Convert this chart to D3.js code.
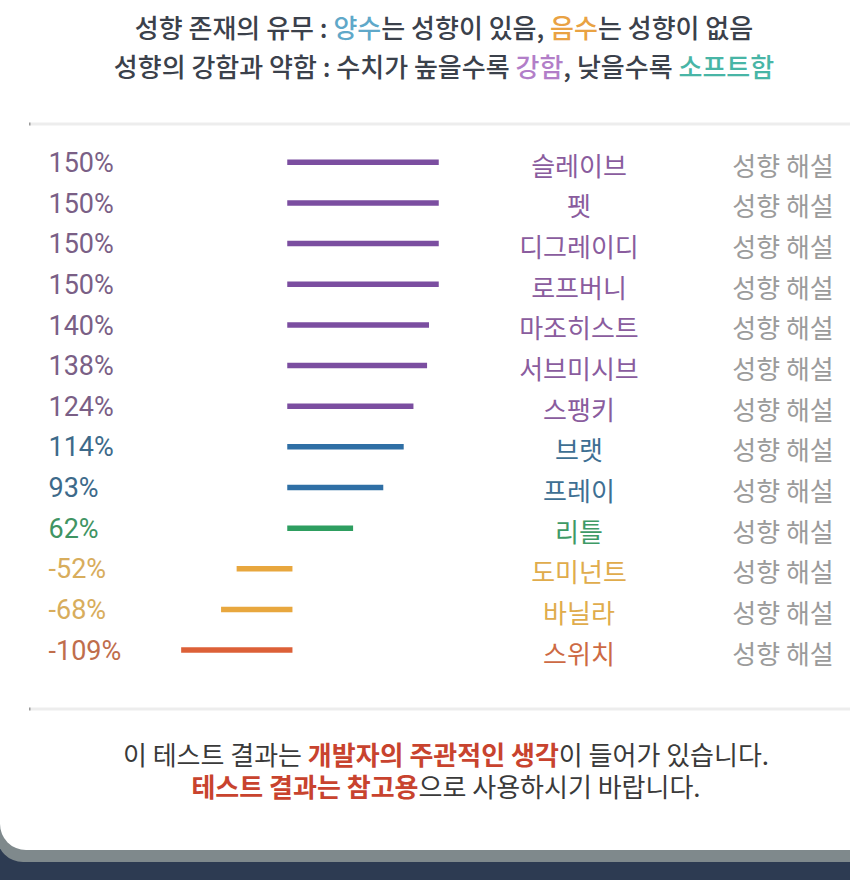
<!DOCTYPE html>
<html><head><meta charset="utf-8">
<script src="https://cdn.jsdelivr.net/npm/d3@7"></script>
<style>
html,body{margin:0;padding:0;background:#fff;}
svg{display:block;}
</style>
</head><body>
<svg id="chart" width="850" height="880"></svg>
<script>
const categories = ["슬레이브","펫","디그레이디","로프버니","마조히스트","서브미시브","스팽키","브랫","프레이","리틀","도미넌트","바닐라","스위치"];
const values = [150,150,150,150,140,138,124,114,93,62,-52,-68,-109];
const valueLabels = ["150%","150%","150%","150%","140%","138%","124%","114%","93%","62%","-52%","-68%","-109%"];
const groups = ["purple","purple","purple","purple","purple","purple","purple","blue","blue","green","orange","orange","red"];
const detailLabel = "성향 해설";
const titleLine1 = [["성향 존재의 유무 : ","dark"],["양수","sky"],["는 성향이 있음, ","dark"],["음수","amber"],["는 성향이 없음","dark"]];
const titleLine2 = [["성향의 강함과 약함 : 수치가 높을수록 ","dark"],["강함","lilac"],[", 낮을수록 ","dark"],["소프트함","teal"]];
const footLine1 = [["이 테스트 결과는 ","text"],["개발자의 주관적인 생각","alert"],["이 들어가 있습니다.","text"]];
const footLine2 = [["테스트 결과는 참고용","alert"],["으로 사용하시기 바랍니다.","text"]];

const barColor = {purple:"#7b4ea0",blue:"#2f6fa5",green:"#2e9e60",orange:"#e8a73e",red:"#dc6038"};
const valueColor = {purple:"#7a5f86",blue:"#3d6a8a",green:"#3f9463",orange:"#d8ad5c",red:"#c06e4c"};
const nameColor = {purple:"#8a5c9e",blue:"#3e6f93",green:"#3e9a66",orange:"#e0ac4c",red:"#cd6a44"};
const spanColor = {dark:"#3b414b",sky:"#5fa8c9",amber:"#e9a243",lilac:"#b27ec8",teal:"#48b5a6",text:"#3a3a3a",alert:"#c8432e"};

const svg = d3.select("#chart");
const KR = "'Noto Sans CJK KR','Noto Sans',sans-serif";

// background card
svg.append("rect").attr("x",0).attr("y",835).attr("width",850).attr("height",45).attr("fill","#2d3b52");
svg.append("rect").attr("x",-3).attr("y",-40).attr("width",900).attr("height",902).attr("rx",26).attr("fill","#7f898c");
svg.append("rect").attr("x",0).attr("y",-40).attr("width",900).attr("height",890).attr("rx",26).attr("fill","#ffffff");

function rich(lines, y, x, size, weight, boldKey){
  const t = svg.append("text").attr("x",x).attr("y",y).attr("text-anchor","middle")
    .attr("font-family",KR).attr("font-size",size).attr("font-weight",weight);
  t.selectAll("tspan").data(lines).join("tspan").text(d=>d[0])
    .attr("fill",d=>spanColor[d[1]])
    .attr("font-weight",d=> d[1]===boldKey ? 700 : weight);
}
rich(titleLine1, 38, 444, 26, 500);
rich(titleLine2, 77, 444, 26, 500);

// dividers
[124, 709].forEach(y=>{
  svg.append("rect").attr("x",30).attr("y",y-1.5).attr("width",830).attr("height",3).attr("fill","#ededed");
  svg.append("rect").attr("x",29).attr("y",y-1.5).attr("width",1.5).attr("height",3).attr("fill","#9a9a9a");
});

const n = categories.length;
const y = d3.scalePoint().domain(d3.range(n)).range([162.3, 650.1]);
const x = d3.scaleLinear().domain([0,150]).range([290,436]);

const rows = svg.append("g").selectAll("g").data(d3.range(n)).join("g");

rows.append("line")
  .attr("x1", i => values[i] >= 0 ? x(0) : x(0) - 0.3)
  .attr("x2", i => x(values[i]))
  .attr("y1", i => y(i)).attr("y2", i => y(i))
  .attr("stroke", i => barColor[groups[i]])
  .attr("stroke-width", 5.5)
  .attr("stroke-linecap","square");

rows.append("text")
  .attr("x", 48.5).attr("y", i => y(i) + 9.6)
  .attr("font-family","Roboto,sans-serif").attr("font-size",27)
  .attr("fill", i => valueColor[groups[i]])
  .text(i => valueLabels[i]);

rows.append("text")
  .attr("x", 579).attr("y", i => y(i) + 13.5)
  .attr("text-anchor","middle")
  .attr("font-family",KR).attr("font-size",26)
  .attr("fill", i => nameColor[groups[i]])
  .text(i => categories[i]);

rows.append("text")
  .attr("x", 783).attr("y", i => y(i) + 13.5)
  .attr("text-anchor","middle")
  .attr("font-family",KR).attr("font-size",26)
  .attr("fill", "#9b9b9b")
  .text(detailLabel);

// footer
rich(footLine1, 765, 446, 26, 400, "alert");
rich(footLine2, 797, 446, 26, 400, "alert");
</script>
</body></html>
